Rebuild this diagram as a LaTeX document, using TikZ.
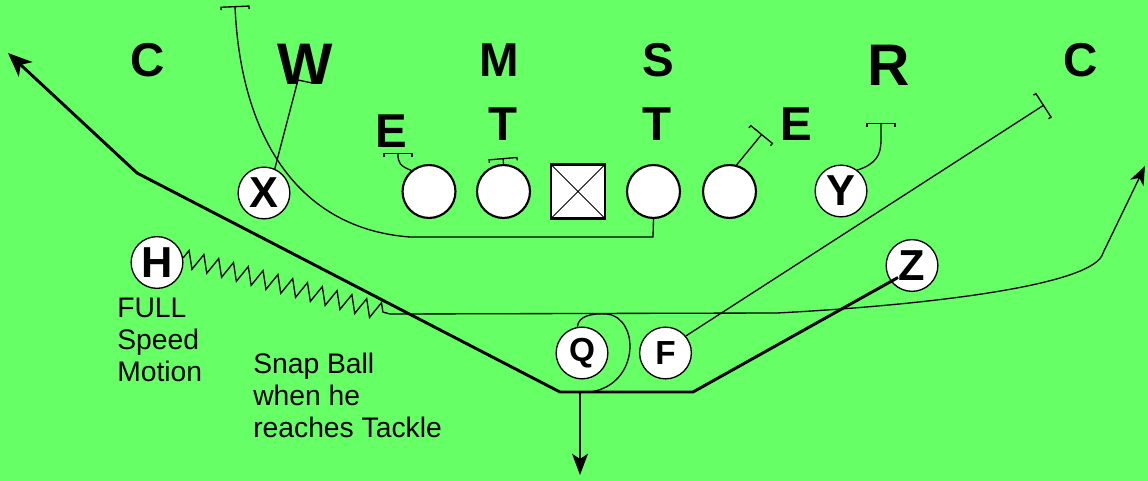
\documentclass[tikz,border=0pt]{standalone}
\usepackage{fontspec}
\setmainfont{Liberation Sans}
\usetikzlibrary{positioning, calc, arrows.meta, decorations.pathmorphing}
\definecolor{field}{HTML}{66FF66}

\begin{document}
\begin{tikzpicture}[
    x=0.75pt, y=-0.75pt,
    % Node styles
    skill node/.style={
        circle,
        draw=black,
        fill=white,
        line width=1pt,
        minimum size=38.8pt,
        inner sep=0pt,
        font=\fontsize{32.5}{32.5}\selectfont\bfseries
    },
    back node/.style={
        skill node,
        font=\fontsize{25}{25}\selectfont\bfseries
    },
    line node/.style={
        circle,
        draw=black,
        fill=white,
        line width=1.6pt,
        minimum size=39.7pt,
        inner sep=0pt
    },
    snap node/.style={
        rectangle,
        draw=black,
        fill=white,
        line width=1.6pt,
        minimum size=40.5pt,
        inner sep=0pt,
        path picture={
            \draw[line width=0.6pt]
                (path picture bounding box.south west) -- (path picture bounding box.north east)
                (path picture bounding box.north west) -- (path picture bounding box.south east);
        }
    },
    defender/.style={
        font=\fontsize{35.6}{36}\selectfont\bfseries,
        inner sep=0pt
    },
    big defender/.style={
        font=\fontsize{44}{44}\selectfont\bfseries,
        inner sep=0pt
    },
    note text/.style={
        font=\fontsize{21.2}{24}\selectfont,
        align=left,
        inner sep=0pt,
        anchor=base west
    },
    % Line styles
    route line/.style={
        draw=black,
        line width=1pt
    },
    block route/.style={
        route line,
        -{Bracket[width=22pt, length=2.2pt, line width=1pt]}
    },
    run line/.style={
        draw=black,
        line width=2.2pt
    },
    motion line/.style={
        route line,
        decorate,
        decoration={zigzag, segment length=11.5pt, amplitude=6.5pt}
    }
]

% Field
\fill[field] (0,0) rectangle (1148,481);

% Offensive line
\foreach \i/\x in {1/429, 2/503.5, 4/653.5, 5/729.5} {
    \node[line node] (L-\i) at (\x, 191.5) {};
}
\node[snap node] (L-3) at (578, 191.5) {};

% Skill players
\node[skill node] (X) at (264, 193) {X};
\node[skill node] (Y) at (841, 191) {Y};
\node[skill node] (H) at (157, 262.5) {H};
\node[skill node] (Z) at (912, 265.5) {Z};
\node[back node] (Q) at (582, 353) {Q};
\node[back node] (F) at (665.5, 353) {F};

% Defense
\foreach \lbl/\x/\y [count=\k] in {C/148/60, M/499/60, S/658/60, C/1081/60.5,
                                  E/391.5/131.5, T/503/124.5, T/657/124.5, E/796.5/124} {
    \node[defender] (D-\k) at (\x, \y) {\lbl};
}
\node[big defender] (D-W) at (305, 64.5) {W};
\node[big defender] (D-R) at (889, 65.5) {R};

% Free ends
\coordinate (run tip) at (8, 53);
\coordinate (motion end) at (390, 314);
\coordinate (wheel tip) at (1145, 166);
\coordinate (drop tip) at (580, 475);

% Run path
\draw[run line, -{Stealth[length=18pt, width=15pt, inset=5pt]}]
    ($(Z)+(-14,12)$) -- (693,392) -- (560,392) -- (137,173) -- (run tip);

% Motion and wheel
\draw[motion line] (H.10) -- (motion end);
\draw[route line, -{Stealth[length=14pt, width=11pt, inset=4pt]}]
    (motion end) -- (777,313) .. controls (930,305) and (1095,285) .. (1103,253) -- (wheel tip);

% Quarterback
\draw[route line] (Q.100) .. controls (578,316) and (592,313) .. (607,314)
    .. controls (640,318) and (640,385) .. (590,392);
\draw[route line, -{Stealth[length=16pt, width=12pt, inset=4pt]}] (580,392) -- (drop tip);

% Blocks
\draw[block route] (L-4.south) -- (653,237) -- (410,237)
    .. controls (290,228) and (240,125) .. (235,6);
\draw[block route] (L-1.130) .. controls (400,166) and (398,163) .. (398,153);
\draw[block route] (L-2.north) -- (503,158);
\draw[block route] (L-5.75) -- (762,134);
\draw[block route] (Y.52) .. controls (876,164) and (881,155) .. (881,140) -- (881,123);
\draw[block route] (F.40) -- (1044,105);
\draw[route line] (X.66) -- (298,80) -- (312,83);

% Notes
\node[note text] (full note) at (117,381) {FULL\\Speed\\Motion};
\node[note text] (snap note) at (253,437) {Snap Ball\\when he\\reaches Tackle};

\end{tikzpicture}
\end{document}
